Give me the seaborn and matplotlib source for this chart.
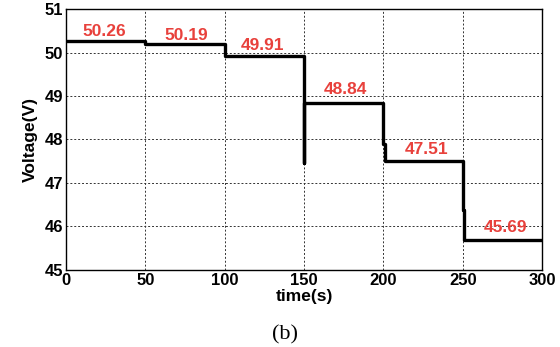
import matplotlib
matplotlib.use("Agg")
import matplotlib.pyplot as plt
import seaborn as sns
import pandas as pd

# step response breakpoints
time_s = [0, 50, 50, 100, 100, 150, 150, 150, 200, 200, 201, 201, 250, 250, 251, 251, 300]
voltage = [50.26, 50.26, 50.19, 50.19, 49.91, 49.91, 47.45, 48.84, 48.84, 47.9, 47.9, 47.51,
           47.51, 46.38, 46.38, 45.69, 45.69]

# level annotations
label_t = [24, 76, 124, 176, 227, 277]
label_v = [50.49, 50.40, 50.17, 49.14, 47.76, 45.97]
label_txt = ["50.26", "50.19", "49.91", "48.84", "47.51", "45.69"]

df = pd.DataFrame({"time": time_s, "voltage": voltage})

sns.set_style("white")
plt.rcParams['font.family'] = ['Liberation Sans', 'DejaVu Sans']
plt.rcParams['text.color'] = 'black'
plt.rcParams['axes.labelcolor'] = 'black'
plt.rcParams['xtick.color'] = 'black'
plt.rcParams['ytick.color'] = 'black'

fig = plt.figure(figsize=(5.6, 3.47), dpi=100)
ax = fig.add_axes([0.118, 0.222, 0.850, 0.752])

sns.lineplot(data=df, x="time", y="voltage", sort=False, estimator=None,
             color="black", linewidth=2.4, ax=ax)

for t, v, s in zip(label_t, label_v, label_txt):
    ax.text(t, v, s, color="#e8413c", fontsize=12.5, fontweight="bold",
            ha="center", va="center")

ax.set_xlim(0, 300)
ax.set_ylim(45, 51)
ax.set_xticks(range(0, 301, 50))
ax.set_yticks(range(45, 52))
ax.grid(True, color="#333333", linestyle=(0, (2, 2)), linewidth=0.7)
for sp in ax.spines.values():
    sp.set_color("black")
    sp.set_linewidth(1.0)
ax.tick_params(axis="both", labelsize=12, length=3, direction="in", pad=2,
               colors="black")
for lab in ax.get_xticklabels() + ax.get_yticklabels():
    lab.set_fontweight("bold")

ax.set_xlabel("time(s)", fontsize=12.5, fontweight="bold", labelpad=1)
ax.set_ylabel("Voltage(V)", fontsize=12.5, fontweight="bold", labelpad=5)

fig.text(0.509, 0.035, "(b)", fontsize=16, family="Liberation Serif",
         ha="center", va="center")

fig.savefig("out.png", dpi=100)
